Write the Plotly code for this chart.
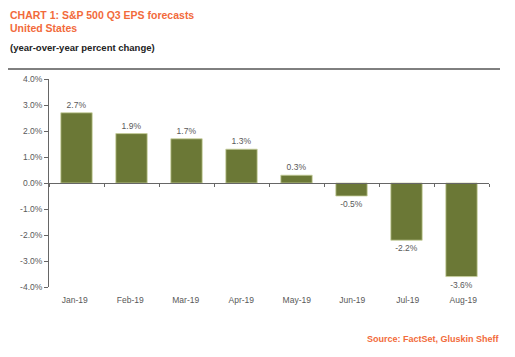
import plotly.graph_objects as go

months = ["Jan-19", "Feb-19", "Mar-19", "Apr-19", "May-19", "Jun-19", "Jul-19", "Aug-19"]
eps_change = [2.7, 1.9, 1.7, 1.3, 0.3, -0.5, -2.2, -3.6]
y_ticks = [4, 3, 2, 1, 0, -1, -2, -3, -4]
y_tick_labels = [f"{v:.1f}%" for v in y_ticks]

OFF = 8  # page body margin
W, H = 515 - OFF, 357 - OFF
L, R, T, B = 49 - OFF, 489 - OFF, 79 - OFF, 287 - OFF

def px(x):
    return (x - OFF - L) / (R - L)

def py(y):
    return (B - (y - OFF)) / (B - T)

GRAY = "#595959"
ORANGE = "#f26a3b"
FONT = "Liberation Sans"

fig = go.Figure()
fig.add_trace(go.Bar(
    x=months, y=eps_change,
    marker=dict(color="#6b7836", line=dict(color="#c8cf9c", width=0.8)),
    text=[f"{v:.1f}%" for v in eps_change],
    textposition="outside",
    textfont=dict(size=8.5, color=GRAY, family=FONT),
    cliponaxis=False,
    xaxis="x", yaxis="y",
))
fig.add_trace(go.Scatter(x=months, y=[0] * len(months), mode="markers",
                         marker=dict(opacity=0), xaxis="x2", yaxis="y",
                         hoverinfo="skip", showlegend=False))

fig.update_layout(
    width=W, height=H,
    margin=dict(l=L, r=W - R, t=T, b=H - B, autoexpand=False),
    paper_bgcolor="white", plot_bgcolor="white",
    showlegend=False,
    bargap=0.43,
    font=dict(family=FONT, color=GRAY),
    xaxis=dict(type="category", anchor="free", position=0.5,
               showline=True, linecolor="#666666", linewidth=1,
               ticks="outside", tickson="boundaries", ticklen=3,
               tickcolor="#666666", showticklabels=False, showgrid=False,
               zeroline=False),
    xaxis2=dict(type="category", overlaying="x", anchor="y", side="bottom",
                showline=False, ticks="", showgrid=False, zeroline=False,
                ticklabelstandoff=6,
                tickfont=dict(size=8.5, color=GRAY, family=FONT)),
    yaxis=dict(range=[-4, 4], tickvals=y_ticks, ticktext=y_tick_labels,
               showline=True, linecolor="#666666", linewidth=1,
               ticks="outside", ticklen=4, tickcolor="#666666",
               showgrid=False, zeroline=False,
               tickfont=dict(size=8.5, color=GRAY, family=FONT)),
    shapes=[dict(type="line", xref="paper", yref="paper",
                 x0=px(8), x1=px(500), y0=py(69), y1=py(69),
                 line=dict(color="black", width=1))],
    annotations=[
        dict(text="CHART 1: S&P 500 Q3 EPS forecasts", xref="paper", yref="paper",
             x=px(8), y=py(7), xanchor="left", yanchor="top", showarrow=False,
             font=dict(size=10.5, color=ORANGE, family=FONT, weight="bold")),
        dict(text="United States", xref="paper", yref="paper",
             x=px(8), y=py(28), xanchor="left", yanchor="middle", showarrow=False,
             font=dict(size=10.5, color=ORANGE, family=FONT, weight="bold")),
        dict(text="(year-over-year percent change)", xref="paper", yref="paper",
             x=px(8), y=py(47), xanchor="left", yanchor="middle", showarrow=False,
             font=dict(size=9.5, color="#222222", family=FONT, weight="bold")),
        dict(text="Source: FactSet, Gluskin Sheff", xref="paper", yref="paper",
             x=px(502), y=py(339), xanchor="right", yanchor="middle", showarrow=False,
             font=dict(size=9, color=ORANGE, family=FONT, weight="bold")),
    ],
)

fig.write_html("out.html")
